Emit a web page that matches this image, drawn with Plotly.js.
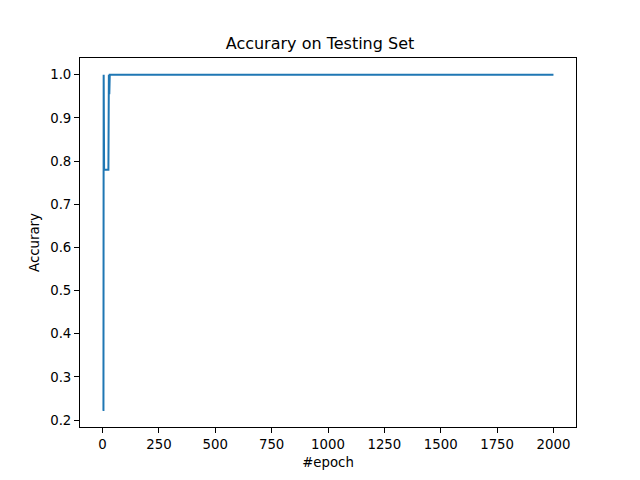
<!DOCTYPE html>
<html>
<head>
<meta charset="utf-8">
<script src="https://cdn.plot.ly/plotly-3.0.1.min.js"></script>
<style>body{margin:0;padding:0;background:#fff}#chart{width:640px;height:480px}</style>
</head>
<body>
<div id="chart"></div>
<script>
const epochs = [0, 4, 5, 7, 26, 28, 30, 32, 34, 2000];
const accuracy = [0.223, 0.223, 1.0, 0.78, 0.78, 1.0, 0.955, 1.0, 1.0, 1.0];
const xTicks = [0, 250, 500, 750, 1000, 1250, 1500, 1750, 2000];
const yTicks = [0.2, 0.3, 0.4, 0.5, 0.6, 0.7, 0.8, 0.9, 1.0];

const font = {family: 'DejaVu Sans', size: 13.3, color: '#000'};
const axisBase = {
  showline: true, mirror: true, linecolor: '#000', linewidth: 1,
  showgrid: false, zeroline: false,
  ticks: 'outside', ticklen: 5, tickwidth: 1, tickcolor: '#000',
  tickfont: font
};
const trace = {
  x: epochs, y: accuracy, type: 'scatter', mode: 'lines',
  line: {color: '#1f77b4', width: 2}
};
const layout = {
  width: 640, height: 480,
  margin: {l: 80, r: 64, t: 58, b: 53},
  paper_bgcolor: '#fff', plot_bgcolor: '#fff',
  font: font,
  showlegend: false,
  title: {text: 'Accurary on Testing Set', font: {family: 'DejaVu Sans', size: 16, color: '#000'},
          x: 0.5, xanchor: 'center', y: 1 - 43/480, yanchor: 'middle'},
  xaxis: Object.assign({}, axisBase, {
    range: [-100, 2100], tickvals: xTicks, ticktext: xTicks.map(String),
    title: {text: '#epoch', font: font, standoff: 6}
  }),
  yaxis: Object.assign({}, axisBase, {
    range: [0.18385, 1.03885], tickvals: yTicks, ticktext: yTicks.map(v => v.toFixed(1)),
    title: {text: 'Accurary', font: font, standoff: 7}
  })
};
Plotly.newPlot('chart', [trace], layout, {displayModeBar: false, staticPlot: true});
</script>
</body>
</html>
